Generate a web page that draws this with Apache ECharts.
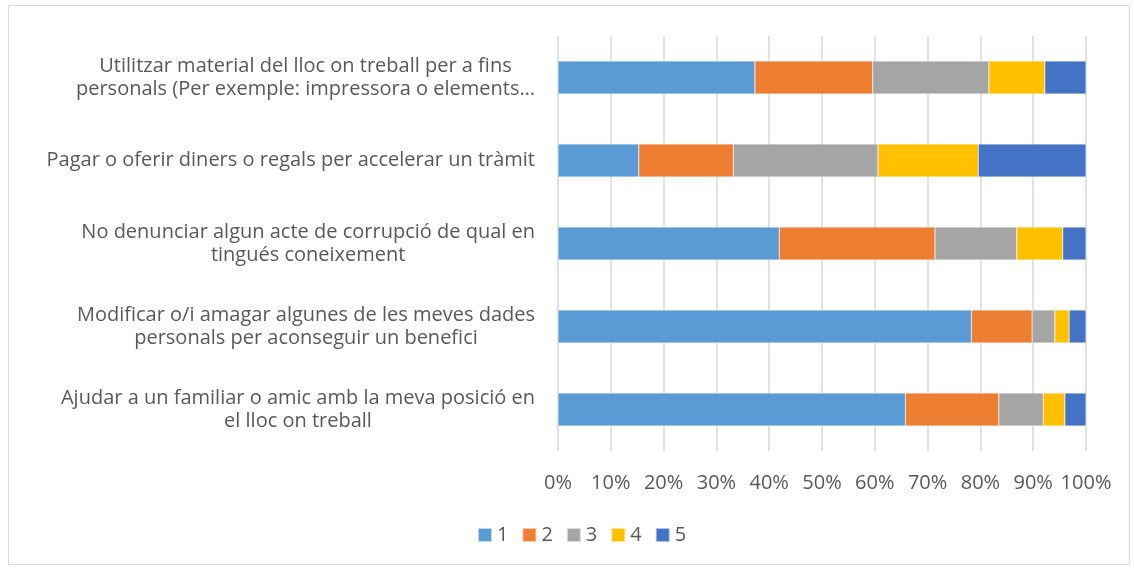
<!DOCTYPE html>
<html>
<head>
<meta charset="utf-8">
<script src="https://cdn.jsdelivr.net/npm/echarts@6/dist/echarts.min.js"></script>
<style>
  html, body { margin: 0; padding: 0; background: #fff; }
  #chart { width: 1134px; height: 570px; }
</style>
</head>
<body>
<div id="chart"></div>
<script>
// categories, bottom to top as ECharts draws them
const categories = [
  'Ajudar a un familiar o amic amb la meva posició en\nel lloc on treball',
  'Modificar o/i amagar algunes de les meves dades\npersonals per aconseguir un benefici',
  'No denunciar algun acte de corrupció de qual en\ntingués coneixement',
  'Pagar o oferir diners o regals per accelerar un tràmit',
  'Utilitzar material del lloc on treball per a fins\npersonals (Per exemple: impressora o elements…'
];
const seriesNames = ['1', '2', '3', '4', '5'];
// percentage of answers per category (same order as categories)
const values1 = [65.8, 78.3, 41.9, 15.3, 37.3];
const values2 = [17.7, 11.5, 29.5, 17.9, 22.3];
const values3 = [8.4, 4.3, 15.5, 27.4, 22.0];
const values4 = [4.1, 2.7, 8.7, 19.0, 10.6];
const values5 = [4.0, 3.2, 4.4, 20.4, 7.8];
const colors = ['#5B9BD5', '#ED7D31', '#A5A5A5', '#FFC000', '#4472C4'];

const allValues = [values1, values2, values3, values4, values5];
const font = 'Open Sans';

const chart = echarts.init(document.getElementById('chart'));
chart.setOption({
  animation: false,
  color: colors,
  graphic: [{
    type: 'rect',
    shape: { x: 8.5, y: 5.5, width: 1121, height: 559 },
    style: { fill: 'none', stroke: '#d9d9d9', lineWidth: 1 },
    silent: true
  }],
  grid: { left: 558, right: 48, top: 36, bottom: 119 },
  legend: {
    bottom: 20,
    left: 472,
    itemWidth: 14,
    itemHeight: 14,
    itemGap: 13,
    icon: 'rect',
    textStyle: { color: '#595959', fontSize: 20, fontFamily: font },
    data: seriesNames
  },
  xAxis: {
    type: 'value',
    min: 0,
    max: 100,
    interval: 10,
    axisLine: { show: false },
    axisTick: { show: false },
    axisLabel: {
      color: '#595959',
      fontSize: 20,
      fontFamily: font,
      margin: 22,
      formatter: v => v + '%'
    },
    splitLine: { lineStyle: { color: '#d9d9d9', width: 1.5 } }
  },
  yAxis: {
    type: 'category',
    data: categories,
    axisLine: { show: false },
    axisTick: { show: false },
    axisLabel: {
      margin: 23,
      color: '#595959',
      fontSize: 20,
      fontFamily: font,
      lineHeight: 23,
      formatter: v => v.split('\n').map(l => '{c|' + l + '}').join('\n'),
      rich: {
        c: { align: 'center', color: '#595959', fontSize: 20, fontFamily: font, lineHeight: 23 }
      }
    }
  },
  series: seriesNames.map((name, i) => ({
    name: name,
    type: 'bar',
    stack: 'total',
    barWidth: 33,
    data: allValues[i],
    itemStyle: { borderColor: 'rgba(255,255,255,0.6)', borderWidth: 0.5 }
  }))
});
</script>
</body>
</html>
